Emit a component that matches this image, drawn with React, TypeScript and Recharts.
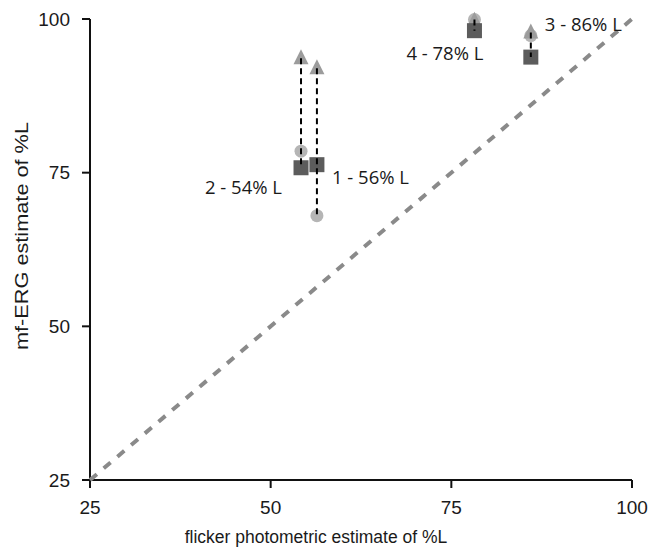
import React from 'react';
import { ScatterChart, Scatter, XAxis, YAxis, Label } from 'recharts';

// ---- data ----
const subjects = ['1', '2', '3', '4'];
const flickerPctL = [56.4, 54.2, 86.0, 78.2];
const mfergTriangle = [92.0, 93.6, 97.8, 99.7];
const mfergCircle = [68.0, 78.5, 97.3, 99.9];
const mfergSquare = [76.3, 75.8, 93.8, 98.1];
const subjectLabels = ['1 - 56% L', '2 - 54% L', '3 - 86% L', '4 - 78% L'];
const axisTicks = [25, 50, 75, 100];
const identityRange = [25, 100];

// ---- styles ----
const labelStyle = [
  { dx: 15, dy: 12, anchor: 'start' },
  { dx: -19, dy: 19, anchor: 'end' },
  { dx: 14, dy: -34, anchor: 'start' },
  { dx: 9, dy: 22, anchor: 'end' },
];
const TICK_FONT = '"Liberation Sans", Arial, sans-serif';
const LABEL_FONT = '"Open Sans", sans-serif';

const triData = subjects.map((s, i) => ({ x: flickerPctL[i], y: mfergTriangle[i] }));
const circData = subjects.map((s, i) => ({ x: flickerPctL[i], y: mfergCircle[i] }));
const sqData = subjects.map((s, i) => ({ x: flickerPctL[i], y: mfergSquare[i] }));
const labelData = subjects.map((s, i) => ({ x: flickerPctL[i], y: mfergSquare[i], label: subjectLabels[i], k: i }));
const connectorData = subjects.map((s, i) => {
  const vals = [mfergTriangle[i], mfergCircle[i], mfergSquare[i]];
  return [
    { x: flickerPctL[i], y: Math.max(...vals) },
    { x: flickerPctL[i], y: Math.min(...vals) },
  ];
});
const identityData = identityRange.map((v) => ({ x: v, y: v }));

const Empty = () => <g />;

const Triangle = (p: any) => {
  const { cx, cy } = p;
  return (
    <polygon
      points={`${cx},${cy - 9} ${cx - 7.5},${cy + 6} ${cx + 7.5},${cy + 6}`}
      fill="#9c9c9c"
    />
  );
};
const Circle = (p: any) => <circle cx={p.cx} cy={p.cy} r={6.5} fill="#b5b5b5" />;
const Square = (p: any) => (
  <rect x={p.cx - 7.5} y={p.cy - 7.5} width={15} height={15} fill="#5c5c5c" />
);
const TextMark = (p: any) => {
  const st = labelStyle[p.payload.k];
  return (
    <text
      x={p.cx + st.dx}
      y={p.cy + st.dy}
      textAnchor={st.anchor}
      dominantBaseline="central"
      fontFamily={LABEL_FONT}
      fontSize={18.5}
      fill="#1a1a1a"
    >
      {p.payload.label}
    </text>
  );
};

export default function App() {
  return (
    <div style={{ position: 'absolute', left: 0, top: 0, background: '#fff' }}>
      <ScatterChart width={649} height={553} margin={{ top: 19, right: 17, bottom: 0, left: 0 }}>
        <XAxis
          type="number"
          dataKey="x"
          domain={[25, 100]}
          ticks={axisTicks}
          height={73}
          axisLine={{ stroke: '#111', strokeWidth: 2 }}
          tickLine={{ stroke: '#111', strokeWidth: 2 }}
          tickSize={8}
          tickMargin={13}
          tick={{ fill: '#1a1a1a', fontSize: 19, fontFamily: TICK_FONT }}
        >
          <Label
            content={() => (
              <text x={316} y={543} textAnchor="middle" fontFamily={TICK_FONT} fontSize={17.5} fill="#1a1a1a">
                flicker photometric estimate of %L
              </text>
            )}
          />
        </XAxis>
        <YAxis
          type="number"
          dataKey="y"
          domain={[25, 100]}
          ticks={axisTicks}
          width={90}
          axisLine={{ stroke: '#111', strokeWidth: 2 }}
          tickLine={{ stroke: '#111', strokeWidth: 2 }}
          tickSize={8}
          tickMargin={12}
          tick={{ fill: '#1a1a1a', fontSize: 19, fontFamily: TICK_FONT }}
        >
          <Label
            content={() => (
              <text
                x={28}
                y={236}
                textAnchor="middle"
                transform="rotate(-90 28 236)"
                fontFamily={TICK_FONT}
                fontSize={19}
                textLength={228}
                lengthAdjust="spacingAndGlyphs"
                fill="#1a1a1a"
              >
                mf-ERG estimate of %L
              </text>
            )}
          />
        </YAxis>
        <Scatter
          data={identityData}
          shape={Empty}
          line={{ stroke: '#8a8a8a', strokeWidth: 4, strokeDasharray: '9 9' }}
          isAnimationActive={false}
        />
        <Scatter data={circData} shape={Circle} isAnimationActive={false} />
        <Scatter data={triData} shape={Triangle} isAnimationActive={false} />
        <Scatter data={sqData} shape={Square} isAnimationActive={false} />
        {connectorData.map((d, i) => (
          <Scatter
            key={i}
            data={d}
            shape={Empty}
            line={{ stroke: '#000', strokeWidth: 2, strokeDasharray: '6 4' }}
            isAnimationActive={false}
          />
        ))}
        <Scatter data={labelData} shape={TextMark} isAnimationActive={false} />
      </ScatterChart>
    </div>
  );
}
